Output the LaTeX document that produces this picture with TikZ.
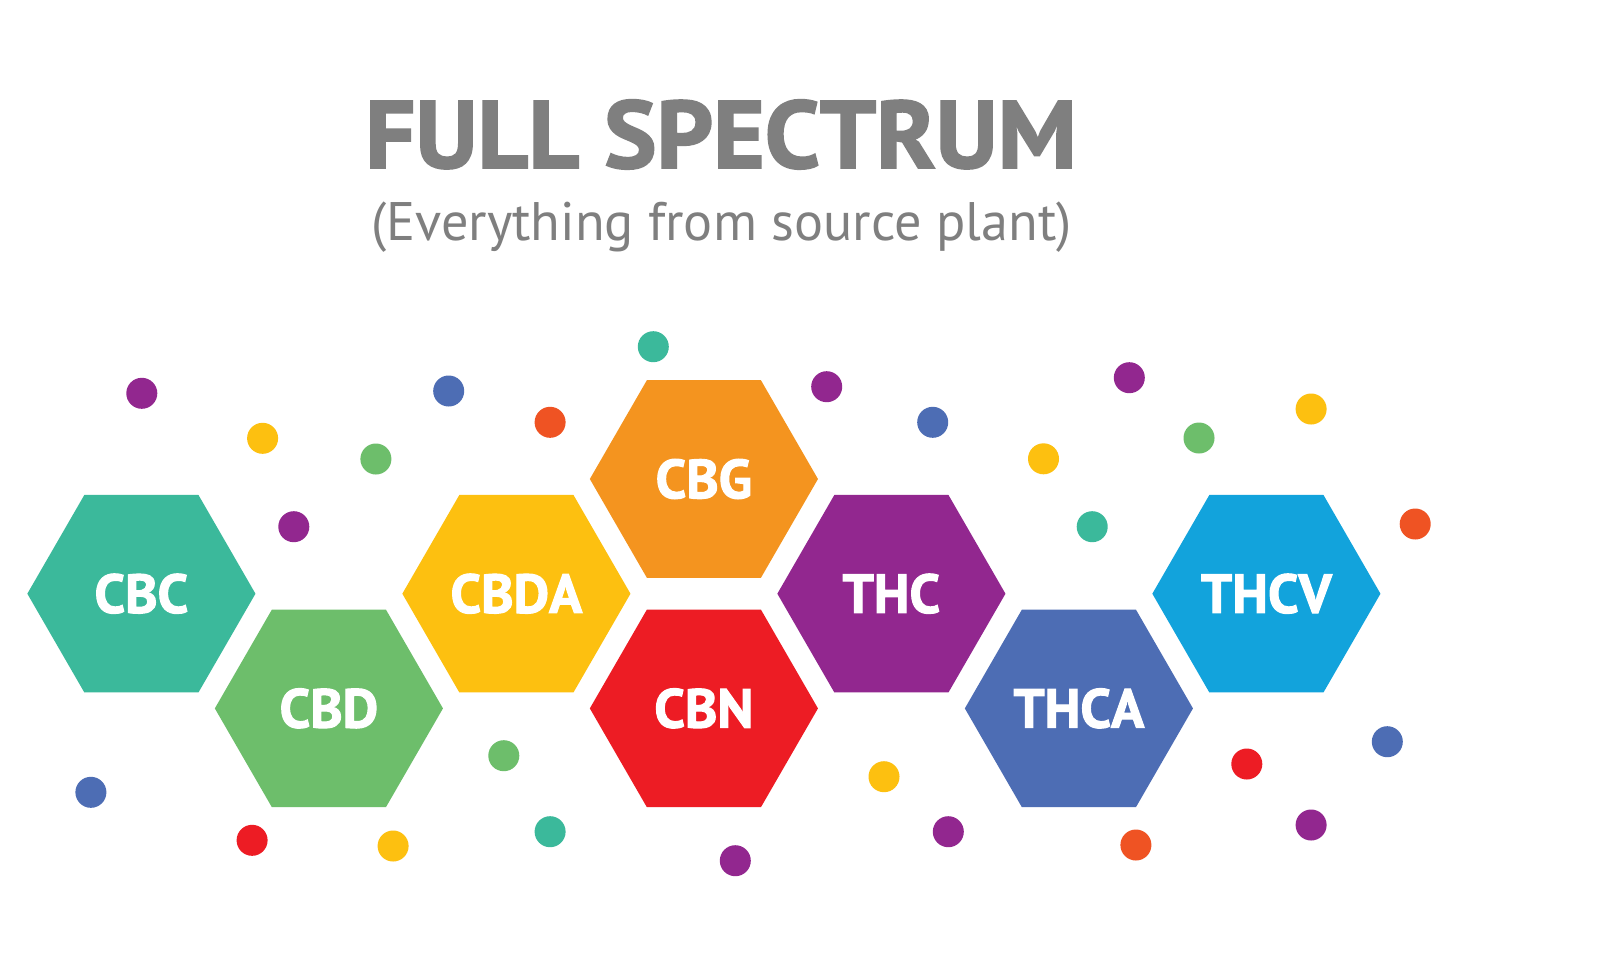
\documentclass[tikz,border=0pt]{standalone}
\usepackage{fontspec}
\setmainfont{PT Sans}
\newfontfamily\heavyfont{PT Sans Bold}[Kerning=Off, FakeBold=2]
\usetikzlibrary{shapes.geometric}
\definecolor{cteal}{HTML}{3BB99B}
\definecolor{cgreen}{HTML}{6DBE6B}
\definecolor{cyellow}{HTML}{FDC010}
\definecolor{corange}{HTML}{F4941F}
\definecolor{cred}{HTML}{ED1C24}
\definecolor{cpurple}{HTML}{92278F}
\definecolor{cblue}{HTML}{4D6DB4}
\definecolor{ccyan}{HTML}{12A3DC}
\definecolor{cor}{HTML}{EF5323}
\definecolor{cgray}{HTML}{7F7F7F}
\begin{document}
\begin{tikzpicture}[x=0.01cm,y=-0.01cm,
  hexa/.style={regular polygon, regular polygon sides=6, minimum size=2.28cm,
    inner sep=0pt, outer sep=0pt, fill=#1, text=white,
    font=\fontsize{15.6}{18}\heavyfont},
  dot/.style={circle, minimum size=0.31cm, inner sep=0pt, outer sep=0pt, fill=#1},
  ttl/.style={inner sep=0pt, outer sep=0pt, anchor=base, text=cgray}]
\useasboundingbox (0,0) rectangle (1600,957);
\fill[white] (0,0) rectangle (1600,957);

\node[ttl] (title) at (721,167.8) {\resizebox{7.11cm}{0.68cm}{\fontsize{30}{36}\heavyfont FULL SPECTRUM}};
\node[ttl] (sub) at (721.5,240) {\resizebox{7.00cm}{!}{\fontsize{20}{24}\selectfont (Everything from source plant)}};

\node[hexa=cteal]   (cbc)  at (141.4,593.7) {CBC};
\node[hexa=cgreen]  (cbd)  at (328.9,708.4) {CBD};
\node[hexa=cyellow] (cbda) at (516.4,593.7) {CBDA};
\node[hexa=corange] (cbg)  at (703.9,479.0) {CBG};
\node[hexa=cred]    (cbn)  at (703.9,708.4) {CBN};
\node[hexa=cpurple] (thc)  at (891.4,593.7) {THC};
\node[hexa=cblue]   (thca) at (1078.9,708.4) {THCA};
\node[hexa=ccyan]   (thcv) at (1266.4,593.7) {THCV};

\node[dot=cpurple] (d1)  at (141.8,393.3) {};
\node[dot=cyellow] (d2)  at (262.6,438.3) {};
\node[dot=cgreen]  (d3)  at (375.9,459.0) {};
\node[dot=cpurple] (d4)  at (293.8,526.7) {};
\node[dot=cblue]   (d5)  at (448.7,391.0) {};
\node[dot=cor]     (d6)  at (550.1,422.3) {};
\node[dot=cteal]   (d7)  at (653.3,346.7) {};
\node[dot=cpurple] (d8)  at (826.7,386.7) {};
\node[dot=cblue]   (d9)  at (932.7,422.3) {};
\node[dot=cyellow] (d10) at (1043.5,458.8) {};
\node[dot=cpurple] (d11) at (1129.3,377.7) {};
\node[dot=cgreen]  (d12) at (1199.0,438.0) {};
\node[dot=cyellow] (d13) at (1311.1,409.0) {};
\node[dot=cteal]   (d14) at (1092.2,526.7) {};
\node[dot=cor]     (d15) at (1415.2,524.0) {};
\node[dot=cblue]   (d16) at (90.9,792.3) {};
\node[dot=cred]    (d17) at (252.1,840.3) {};
\node[dot=cyellow] (d18) at (393.1,846.0) {};
\node[dot=cgreen]  (d19) at (503.8,755.7) {};
\node[dot=cteal]   (d20) at (550.1,831.7) {};
\node[dot=cpurple] (d21) at (735.3,860.7) {};
\node[dot=cyellow] (d22) at (884.0,776.7) {};
\node[dot=cpurple] (d23) at (948.3,831.7) {};
\node[dot=cor]     (d24) at (1135.9,845.0) {};
\node[dot=cred]    (d25) at (1246.8,764.0) {};
\node[dot=cpurple] (d26) at (1311.1,825.0) {};
\node[dot=cblue]   (d27) at (1387.3,741.7) {};
\end{tikzpicture}
\end{document}
